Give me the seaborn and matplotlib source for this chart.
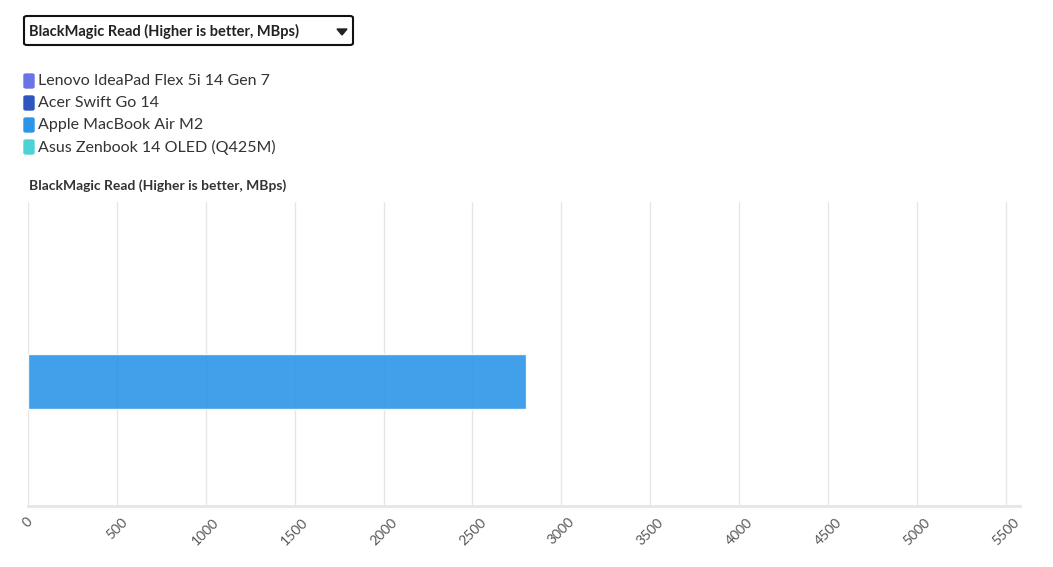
import numpy as np
import pandas as pd
import matplotlib.pyplot as plt
import matplotlib.patheffects as pe
from matplotlib.patches import FancyBboxPatch, Polygon
import seaborn as sns

metric = 'BlackMagic Read (Higher is better, MBps)'
laptops = ['Lenovo IdeaPad Flex 5i 14 Gen 7', 'Acer Swift Go 14',
           'Apple MacBook Air M2', 'Asus Zenbook 14 OLED (Q425M)']
read_mbps = [np.nan, np.nan, 2800.1, np.nan]
colors = ['#6b74e6', '#2d56c0', '#2d95e8', '#4fd2d6']
x_ticks = list(range(0, 5501, 500))

df = pd.DataFrame({'metric': [metric] * 4, 'laptop': laptops, 'value': read_mbps})

sns.set_style('white')
plt.rcParams['font.family'] = ['Lato', 'DejaVu Sans']

W, H = 1053, 567
fig = plt.figure(figsize=(W / 100, H / 100), dpi=100)
ax = fig.add_axes([28 / W, (H - 506) / H, (1020 - 28) / W, (506 - 202) / H])

sns.barplot(data=df, y='metric', x='value', hue='laptop', hue_order=laptops,
            palette=colors, orient='h', width=0.72, legend=False, ax=ax,
            saturation=1, alpha=0.9)

ax.set_xlim(0, 5580)
ax.set_xticks(x_ticks)
ax.set_xticklabels([str(t) for t in x_ticks], rotation=45, fontsize=10, color='#555555')
ax.set_yticks([])
ax.set_xlabel('')
ax.set_ylabel('')
ax.grid(axis='x', color='#e6e6e6', linewidth=1)
ax.set_axisbelow(True)
for s in ['top', 'right', 'left']:
    ax.spines[s].set_visible(False)
ax.spines['bottom'].set_color('#e6e6e6')
ax.spines['bottom'].set_linewidth(2)
ax.tick_params(axis='x', length=5, color='#e6e6e6', pad=2)

for bar, val in zip(ax.patches, read_mbps):
    if np.isnan(val):
        continue
    ax.text(bar.get_width() - 5, bar.get_y() + bar.get_height() / 2, f'{val:.1f}',
            ha='right', va='center', fontsize=12, fontweight='bold', color='black',
            path_effects=[pe.withStroke(linewidth=3, foreground='white')])

# dropdown box
fig.patches.append(FancyBboxPatch((24 / W, (H - 45) / H), (353 - 24) / W, 29 / H,
                                  boxstyle='round,pad=0,rounding_size=0.003',
                                  transform=fig.transFigure, fill=False,
                                  edgecolor='#111111', linewidth=1.5))
fig.text(29 / W, (H - 31) / H, metric, fontsize=10.5, fontweight='bold',
         color='#222222', va='center')
fig.patches.append(Polygon([[337 / W, (H - 29) / H], [347 / W, (H - 29) / H],
                            [342 / W, (H - 35) / H]], closed=True,
                           transform=fig.transFigure, color='#222222'))

# legend
for i, (name, c) in enumerate(zip(laptops, colors)):
    yc = 81 + i * 22
    fig.patches.append(FancyBboxPatch((24 / W, (H - yc - 7) / H), 10 / W, 14 / H,
                                      boxstyle='round,pad=0,rounding_size=0.002',
                                      transform=fig.transFigure, color=c))
    fig.text(38 / W, (H - yc) / H, name, fontsize=11.5, color='#333333', va='center')

fig.text(29 / W, (H - 186) / H, metric, fontsize=10, fontweight='bold',
         color='#333333', va='center')

fig.savefig('out.png', dpi=100)
